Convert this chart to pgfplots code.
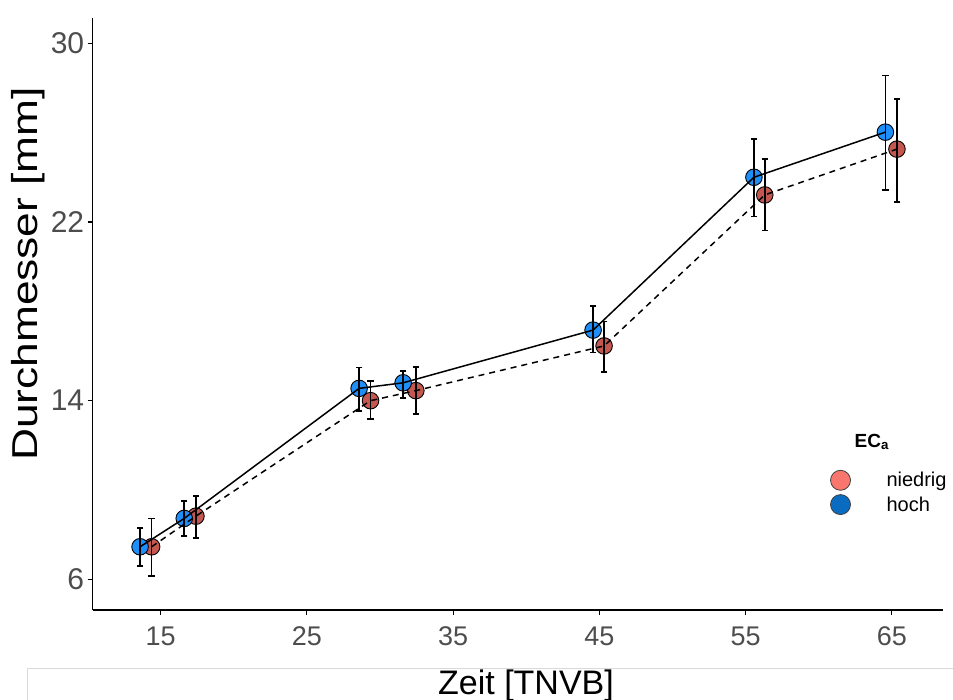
\documentclass[border=0pt]{standalone}
\usepackage{pgfplots}
\pgfplotsset{compat=1.18}
\usepackage{pgfplotstable}
\usepackage{fontspec}
\setmainfont{Liberation Sans}

\definecolor{ptblue}{HTML}{1E8EF8}
\definecolor{ptred}{HTML}{C4574F}
\definecolor{keyred}{HTML}{F8766D}
\definecolor{keyblue}{HTML}{0A6CC0}
\definecolor{ticktext}{HTML}{4D4D4D}
\definecolor{frame}{HTML}{D9D9D9}

% stem diameter over time, mean with upper and lower error
\pgfplotstableread{
x      y      ep    em
13.59  7.46   0.85  0.86
16.61  8.73   0.78  0.78
28.57  14.55  0.93  1.01
31.58  14.80  0.53  0.67
44.57  17.16  1.08  1.01
55.57  24.00  1.72  1.76
64.56  26.02  2.53  2.59
}\hoch
\pgfplotstableread{
x      y      ep    em
14.38  7.46   1.27  1.31
17.41  8.83   0.91  0.97
29.35  14.00  0.88  0.83
32.45  14.45  1.07  1.06
45.32  16.45  1.09  1.18
56.31  23.21  1.61  1.60
65.35  25.26  2.25  2.38
}\niedrig

\pgfplotsset{
  errstyle/.style={forget plot, draw=none, mark=none,
    error bars/.cd, y dir=both, y explicit,
    error bar style={draw=black, line width=1.6pt, solid},
    error mark=none},
  capstyle/.style={forget plot, only marks, mark=-, mark size=3.2pt,
    mark options={draw=black, line width=1.6pt, solid}},
}

\begin{document}
\begin{tikzpicture}
\begin{axis}[
  scale only axis,
  width=850.3pt, height=592pt,
  xmin=10.35, xmax=68.5,
  ymin=4.63, ymax=31.13,
  axis x line*=bottom, axis y line*=left,
  axis line style={line width=1.3pt, black, -},
  xtick={15,25,35,45,55,65},
  ytick={6,14,22,30},
  tick align=outside,
  major tick length=5pt,
  tick style={line width=1.1pt, black},
  /pgf/number format/assume math mode=true,
  xticklabel style={font=\fontsize{27}{27}\selectfont, text=ticktext, yshift=-8pt},
  yticklabel style={font=\fontsize{30}{30}\selectfont, text=ticktext, xshift=0pt},
  xlabel={Zeit [TNVB]},
  ylabel={\scalebox{1.23}[1]{Durchmesser [mm]}},
  xlabel style={font=\fontsize{34}{34}\selectfont, at={(axis description cs:0.5096,-0.128)}, anchor=center},
  ylabel style={font=\fontsize{36}{36}\selectfont, at={(axis description cs:-0.0755,0.5676)}, anchor=center},
  clip=false,
  clip marker paths=true,
  legend cell align=left,
  legend style={at={(axis description cs:0.867,0.237)}, anchor=north west,
    draw=none, fill=none, font=\fontsize{20}{20}\selectfont,
    row sep=3.5pt, inner sep=0pt},
  legend image code/.code={\draw[#1] (10pt,0pt) circle (10pt);
    \path[draw=none, fill=none] (0pt,0pt) -- (54pt,0pt);},
]
% legend keys
\addlegendimage{fill=keyred, draw=black!75, line width=0.8pt}
\addlegendentry{niedrig}
\addlegendimage{fill=keyblue, draw=black!75, line width=0.8pt}
\addlegendentry{hoch}

% points
\addplot[only marks, mark=*, mark size=8.3pt,
  mark options={fill=ptred, draw=black, line width=0.9pt}, forget plot]
  table[x=x, y=y] {\niedrig};
\addplot[only marks, mark=*, mark size=8.3pt,
  mark options={fill=ptblue, draw=black, line width=0.9pt}, forget plot]
  table[x=x, y=y] {\hoch};

% connecting lines
\addplot[black, line width=1.5pt, dash pattern=on 6pt off 5pt, mark=none, forget plot]
  table[x=x, y=y] {\niedrig};
\addplot[black, line width=1.5pt, mark=none, forget plot]
  table[x=x, y=y] {\hoch};

% error bars
\addplot[errstyle] table[x=x, y=y, y error plus=ep, y error minus=em] {\niedrig};
\addplot[errstyle] table[x=x, y=y, y error plus=ep, y error minus=em] {\hoch};
% caps at the bar ends
\addplot[capstyle] table[x=x, y expr=\thisrow{y}+\thisrow{ep}] {\niedrig};
\addplot[capstyle] table[x=x, y expr=\thisrow{y}-\thisrow{em}] {\niedrig};
\addplot[capstyle] table[x=x, y expr=\thisrow{y}+\thisrow{ep}] {\hoch};
\addplot[capstyle] table[x=x, y expr=\thisrow{y}-\thisrow{em}] {\hoch};

% legend title
\node[anchor=base west, font=\bfseries\fontsize{19}{19}\selectfont]
  at (axis description cs:0.892,0.275) {EC\textsubscript{a}};
\end{axis}
% outer frame line of the panel
\draw[frame, line width=0.8pt] (-65.7pt,-90pt) -- (-65.7pt,-58pt) -- (860.3pt,-58pt);
\pgfresetboundingbox
\path (-92.7pt,-90pt) rectangle (860.3pt,610pt);
\end{tikzpicture}
\end{document}
